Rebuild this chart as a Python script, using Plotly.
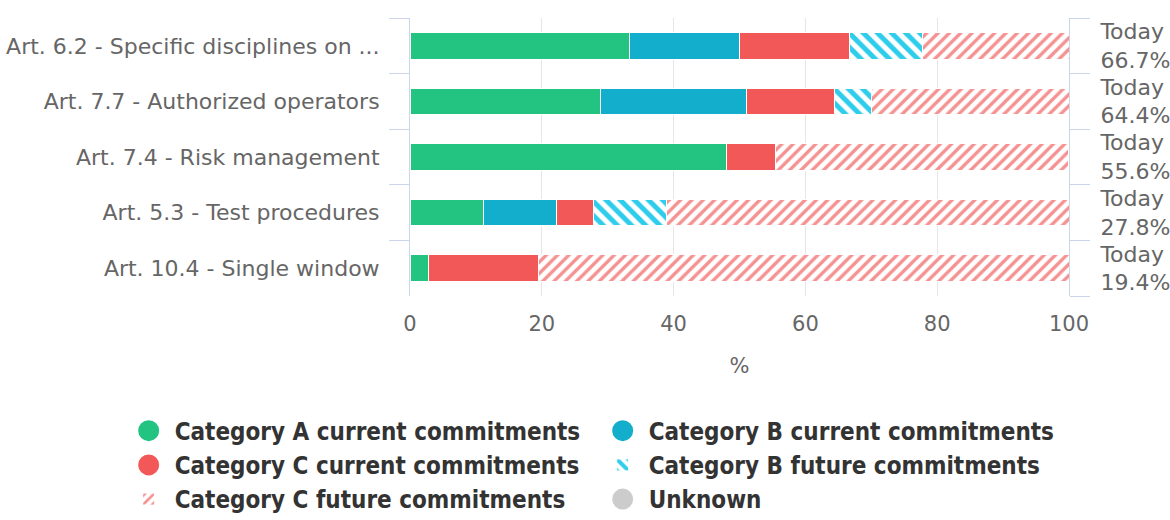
import plotly.graph_objects as go

# Articles, listed top to bottom
articles = [
    "Art. 6.2 - Specific disciplines on ...",
    "Art. 7.7 - Authorized operators",
    "Art. 7.4 - Risk management",
    "Art. 5.3 - Test procedures",
    "Art. 10.4 - Single window",
]

# Share of commitments per category (%)
cat_a_current = [33.3, 28.9, 48.1, 11.1, 2.8]
cat_b_current = [16.7, 22.2, 0.0, 11.1, 0.0]
cat_c_current = [16.7, 13.3, 7.4, 5.6, 16.7]
cat_b_future = [11.1, 5.6, 0.0, 11.1, 0.0]
cat_c_future = [22.2, 30.0, 44.4, 61.1, 80.5]

# Implemented today (%) shown on the right-hand axis
today = [66.7, 64.4, 55.6, 27.8, 19.4]
today_labels = [f"Today<br>{v:.1f}%" for v in today]

GREEN = "#23c381"
BLUE = "#13aecc"
RED = "#f25858"
BLUE_HATCH = "#2ecdeb"
RED_HATCH = "#f59191"
GREY = "#cccccc"
AXIS_LINE = "#ccd6eb"
FONT = "DejaVu Sans"
LEGEND_FONT = "DejaVu Sans Condensed, DejaVu Sans"

# Category axis span with the first article at the top
cat_range = [len(articles) - 0.5, -0.5]

fig = go.Figure()

solid = [
    ("Category A current commitments", cat_a_current, GREEN, 1),
    ("Category B current commitments", cat_b_current, BLUE, 2),
    ("Category C current commitments", cat_c_current, RED, 3),
]
for name, vals, color, rank in solid:
    fig.add_trace(go.Bar(
        y=articles, x=vals, orientation="h", name=name,
        marker=dict(color=color, line=dict(color="white", width=1)),
        showlegend=False,
    ))

hatched = [
    ("Category B future commitments", cat_b_future, BLUE_HATCH, "\\", 10, 0.5, 4),
    ("Category C future commitments", cat_c_future, RED_HATCH, "/", 8, 0.42, 5),
]
for name, vals, color, shape, size, sol, rank in hatched:
    fig.add_trace(go.Bar(
        y=articles, x=vals, orientation="h", name=name,
        marker=dict(
            color=color, line=dict(color="white", width=1),
            pattern=dict(shape=shape, fillmode="replace", bgcolor="white",
                         fgcolor=color, size=size, solidity=sol),
        ),
        legendrank=rank,
    ))

# Circle legend entries for the solid series and the empty "Unknown" group
for name, _, color, rank in solid + [("Unknown", None, GREY, 6)]:
    fig.add_trace(go.Scatter(
        x=[None], y=[None], mode="markers", name=name,
        marker=dict(symbol="circle", size=16, color=color,
                    line=dict(color=color, width=5)),
        legendrank=rank, hoverinfo="skip",
    ))

# Invisible trace carrying the right-hand category axis
fig.add_trace(go.Scatter(
    x=today, y=articles, yaxis="y2", mode="none",
    showlegend=False, hoverinfo="skip",
))

fig.update_layout(
    width=1170, height=520,
    barmode="stack", bargap=0.52,
    plot_bgcolor="white", paper_bgcolor="white",
    margin=dict(l=410, r=101, t=18, b=224, autoexpand=False),
    font=dict(family=FONT, size=21, color="#666666"),
    xaxis=dict(
        range=[0, 100], tickvals=[0, 20, 40, 60, 80, 100],
        showgrid=True, gridcolor="#e6e6e6", gridwidth=1,
        zeroline=False, showline=False, ticks="",
        tickfont=dict(size=21, color="#666666"),
        ticklabelstandoff=13, automargin=False,
        title=dict(text="%", font=dict(size=21, color="#666666"), standoff=23),
    ),
    yaxis=dict(
        type="category", categoryorder="array", categoryarray=articles,
        range=cat_range, tickson="boundaries",
        showline=True, linecolor=AXIS_LINE, linewidth=1,
        ticks="outside", ticklen=20, tickcolor=AXIS_LINE, tickwidth=1,
        showgrid=False, zeroline=False, automargin=False,
        tickfont=dict(size=22, color="#666666"),
        ticklabelstandoff=25,
    ),
    yaxis2=dict(
        type="category", categoryorder="array", categoryarray=articles,
        range=cat_range, overlaying="y", side="right",
        tickmode="array", tickvals=articles, ticktext=today_labels,
        tickson="boundaries",
        showline=True, linecolor=AXIS_LINE, linewidth=1,
        ticks="outside", ticklen=20, tickcolor=AXIS_LINE, tickwidth=1,
        showgrid=False, zeroline=False, automargin=False,
        tickfont=dict(size=22, color="#666666"),
        ticklabelstandoff=26,
    ),
    legend=dict(
        orientation="h", x=-0.436, xanchor="left", y=-0.405, yanchor="top",
        entrywidth=417, entrywidthmode="pixels", itemwidth=42,
        font=dict(family=LEGEND_FONT, size=24, color="#333333", weight="bold"),
        traceorder="normal", itemclick=False, itemdoubleclick=False,
    ),
    hovermode=False,
)

fig.write_html("out.html")
